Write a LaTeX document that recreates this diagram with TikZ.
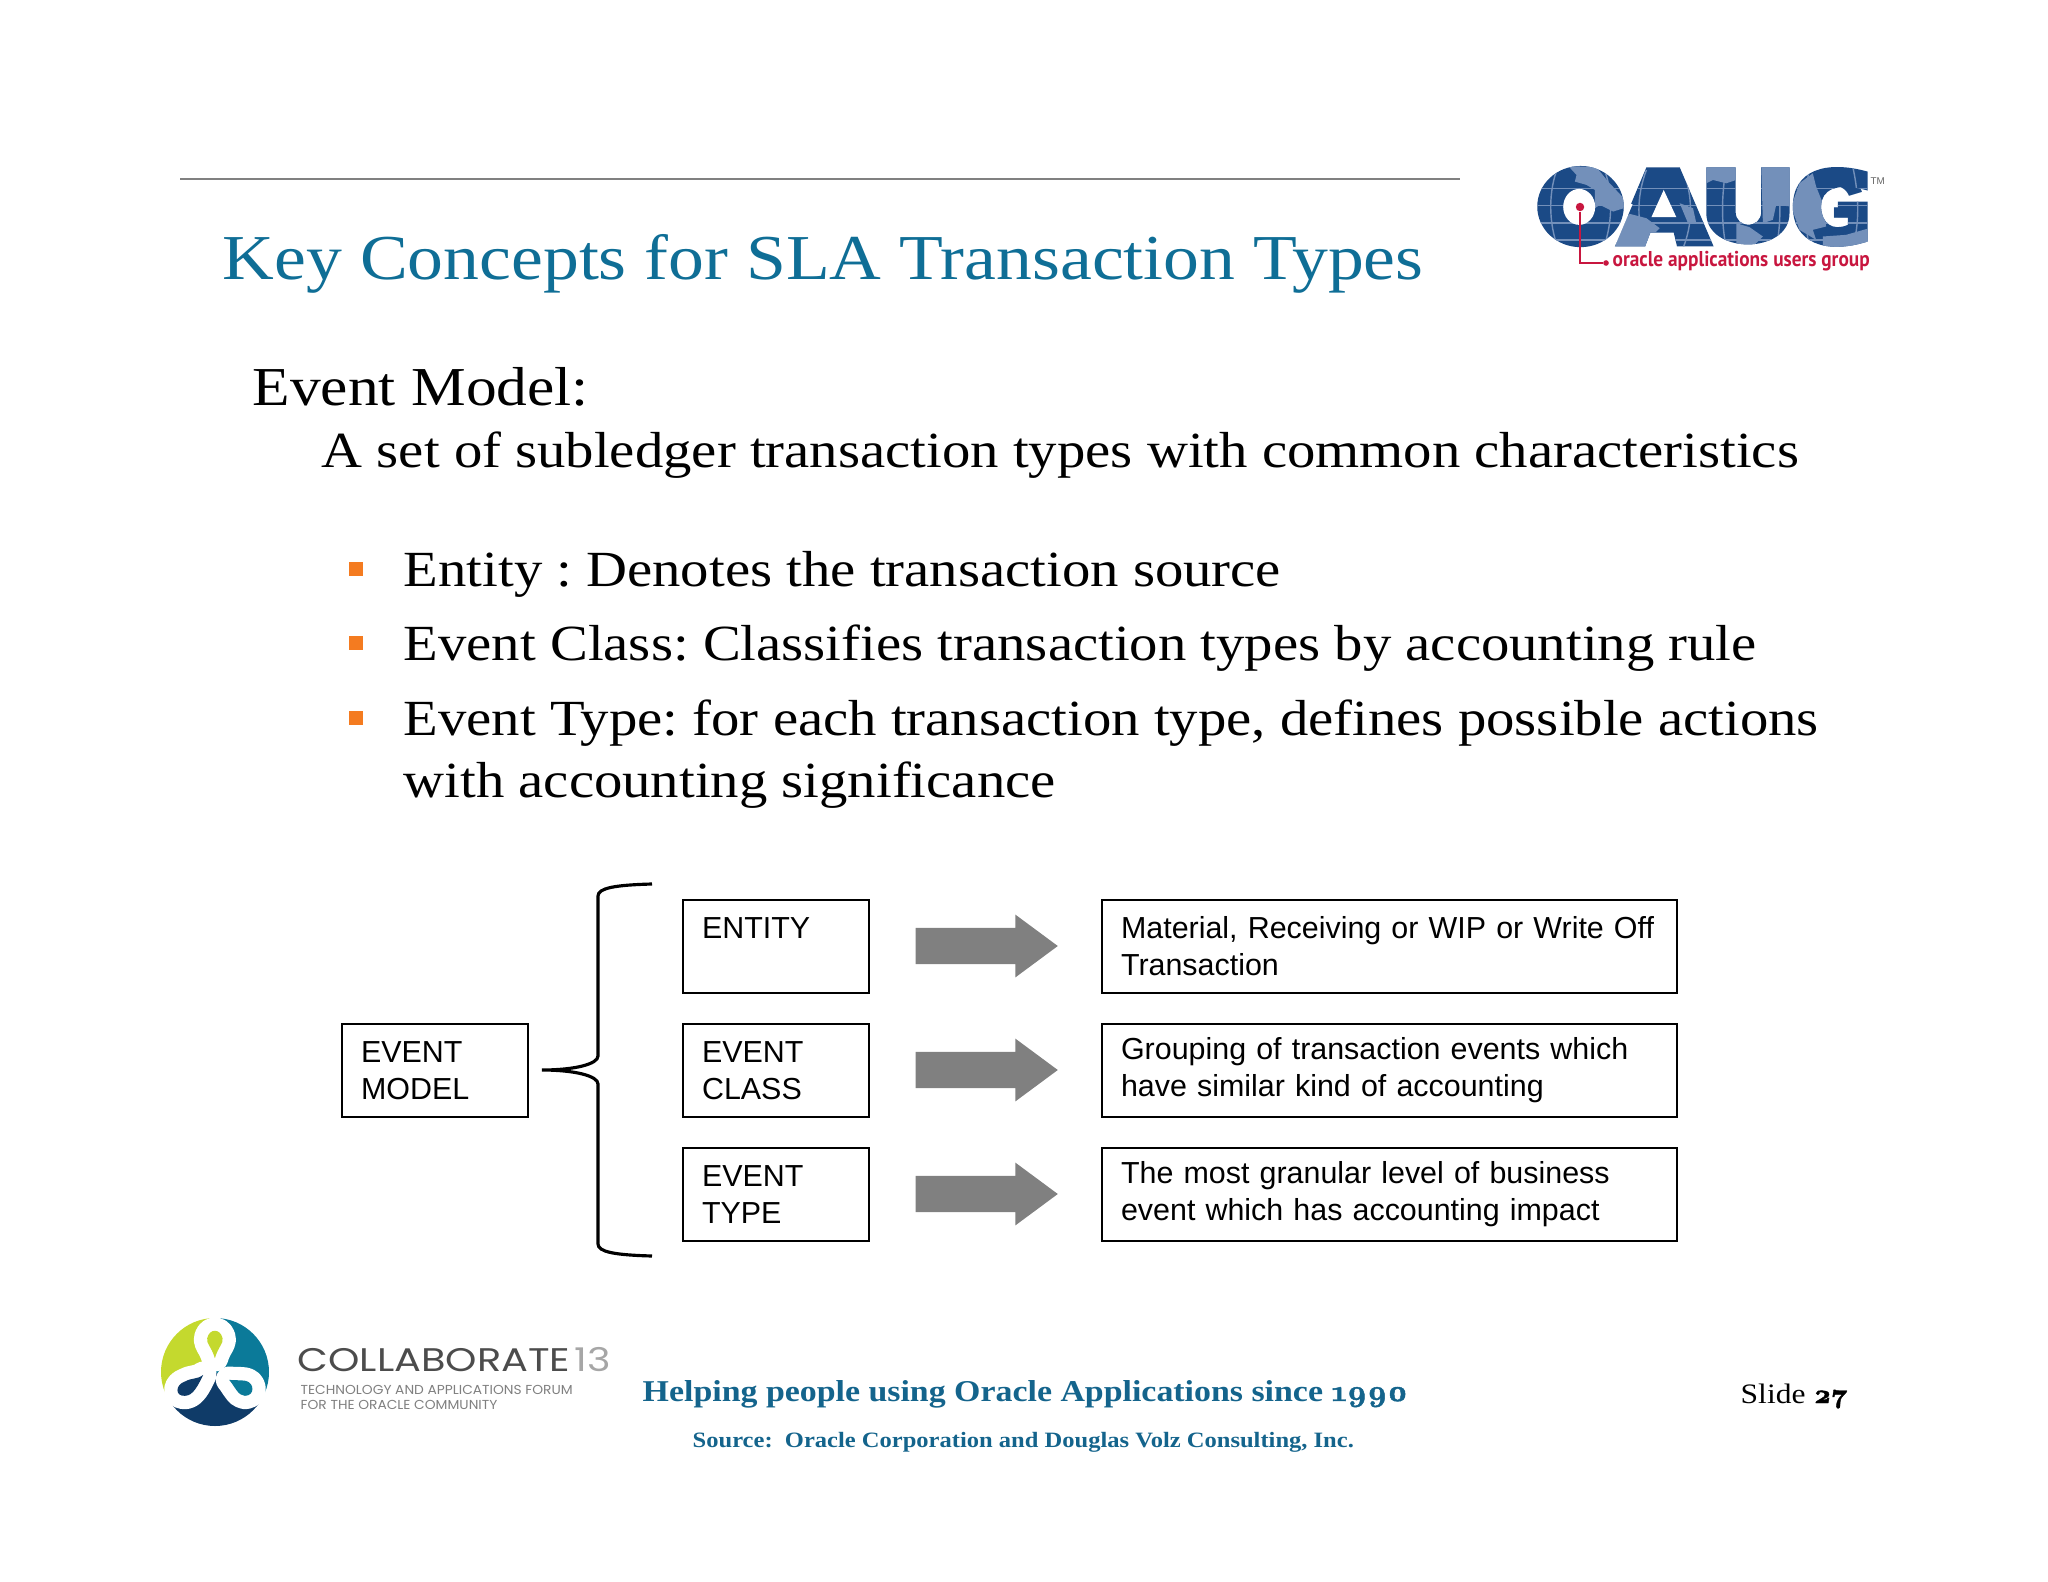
\documentclass[tikz,border=0pt]{standalone}
\usepackage{fontspec}
\usetikzlibrary{shapes.arrows}
\setmainfont{Liberation Serif}
\setsansfont{Liberation Sans}
\newfontfamily\slidefont[FakeStretch=1.12]{Liberation Serif}
\newfontfamily\footbold[FakeStretch=1.12]{Liberation Serif Bold}
\newfontfamily\footfont[Numbers=OldStyle,BoldFeatures={FakeBold=1.5}]{Latin Modern Roman}
\newfontfamily\oaugfont{Liberation Sans Bold}
\newfontfamily\tagfont[FakeStretch=0.9]{PT Sans Bold}
\newfontfamily\collabfont[FakeStretch=1.22]{Poppins}
\newfontfamily\forumfont[FakeStretch=1.06]{Poppins}
\definecolor{slideblue}{HTML}{0F6E96}
\definecolor{footblue}{HTML}{14648C}
\definecolor{bulletorange}{HTML}{F47B20}
\definecolor{oaugdark}{HTML}{1B4A86}
\definecolor{oauglight}{HTML}{7390BA}
\definecolor{oaugred}{HTML}{C8163F}
\definecolor{colime}{HTML}{C4D92E}
\definecolor{coteal}{HTML}{0B7A99}
\definecolor{conavy}{HTML}{0F3B68}
\newcommand{\oaugshape}{
  (302,200) ellipse (130 and 122)
  (400,320) -- (500,82) -- (600,82) -- (702,320) -- (592,320) -- (582,278) -- (512,278) -- (496,320) -- cycle
  (680,82) -- (768,82) -- (768,215) .. controls (768,268) and (845,268) .. (845,215) -- (845,82) -- (930,82)
    -- (930,220) .. controls (930,345) and (680,345) .. (680,220) -- cycle
  (1165,95) .. controls (1040,60) and (940,90) .. (940,200) .. controls (940,310) and (1040,345) .. (1165,305)
    -- (1165,185) -- (1075,185) -- (1075,232) -- (1105,232) -- (1105,255)
    .. controls (1060,275) and (1025,250) .. (1025,200) .. controls (1025,150) and (1070,125) .. (1165,152) -- cycle
}
\tikzset{
  plaintext/.style={anchor=base west,inner sep=0pt},
  bodytext/.style={plaintext,font=\slidefont\fontsize{14.4}{16}\selectfont},
  bulletmark/.style={rectangle,fill=bulletorange,inner sep=0pt,minimum size=4.2pt},
  boxnode/.style={draw,line width=0.6pt,inner sep=0pt,inner xsep=5.4pt,align=left,
    text width=42pt,minimum height=26.4pt,anchor=north west,
    font=\sffamily\fontsize{8.65}{10.5}\selectfont},
  widebox/.style={boxnode,text width=152.6pt},
  blockarrow/.style={single arrow,fill=black!50,inner sep=0pt,minimum height=40.4pt,
    text height=9.9pt,text depth=0pt,text width=0pt,single arrow head extend=3.8pt,
    single arrow tip angle=73,anchor=west},
  teardrop/.style={preaction={draw=white,line width=7.6pt,line join=round}},
}
\begin{document}
\frenchspacing
\begin{tikzpicture}[x=0.01cm,y=-0.01cm]
  \useasboundingbox (0,0) rectangle (2048,1582);
  % header
  \coordinate (ruleleft) at (180,179);
  \coordinate (ruleright) at (1460,179);
  \draw[black!50,line width=0.3pt] (ruleleft) -- (ruleright);
  \node[plaintext,text=slideblue,font=\slidefont\fontsize{18.2}{22}\selectfont]
    (title) at (222,280) {Key Concepts for SLA Transaction Types};
  % text block
  \node[plaintext,font=\slidefont\fontsize{15.6}{18}\selectfont] (model) at (252,405) {Event Model:};
  \node[bodytext] (modeldef) at (321,467) {A set of subledger transaction types with common characteristics};
  \node[bulletmark] (bullet1) at (356,569) {};
  \node[bulletmark] (bullet2) at (356,643) {};
  \node[bulletmark] (bullet3) at (356,718) {};
  \node[bodytext] (entity) at (403,586) {Entity : Denotes the transaction source};
  \node[bodytext] (class) at (403,660) {Event Class: Classifies transaction types by accounting rule};
  \node[bodytext] (type) at (403,735) {Event Type: for each transaction type, defines possible actions};
  \node[bodytext] (typemore) at (403,797) {with accounting significance};
  % boxes
  \node[boxnode] (emodel) at (341,1023) {EVENT\\MODEL};
  \node[boxnode] (eentity) at (682,899) {ENTITY\\~};
  \node[boxnode] (eclass) at (682,1023) {EVENT\\CLASS};
  \node[boxnode] (etype) at (682,1147) {EVENT\\TYPE};
  \node[widebox] (dentity) at (1101,899) {Material, Receiving or WIP or Write Off\\Transaction};
  \node[widebox] (dclass) at (1101,1023) {Grouping of transaction events which\\have similar kind of accounting};
  \node[widebox] (dtype) at (1101,1147) {The most granular level of business\\event which has accounting impact};
  \node[blockarrow] (aentity) at (915,946) {};
  \node[blockarrow] (aclass) at (915,1070) {};
  \node[blockarrow] (atype) at (915,1194) {};
  % brace
  \coordinate (bracetop) at (652,884);
  \coordinate (bracetip) at (542,1070);
  \coordinate (bracebot) at (652,1256);
  \draw[line width=0.9pt] (bracetop) .. controls (615,885) and (598,888) .. (598,896)
    -- (598,1056) .. controls (598,1064) and (575,1070) .. (bracetip)
    .. controls (575,1070) and (598,1076) .. (598,1084)
    -- (598,1244) .. controls (598,1252) and (615,1255) .. (bracebot);
  % footer
  \node[plaintext,text=footblue,font=\footbold\fontsize{8.6}{11}\selectfont]
    (helping) at (642,1401) {Helping people using Oracle Applications since {\footfont\bfseries 1990}};
  \node[plaintext,text=footblue,font=\footbold\fontsize{6.23}{8}\selectfont]
    (source) at (692,1447) {Source:\ \ Oracle Corporation and Douglas Volz Consulting, Inc.};
  \node[plaintext,font=\slidefont\fontsize{8}{10}\selectfont]
    (slide) at (1740,1403) {Slide {\footfont\bfseries\fontsize{7.6}{10}\selectfont 27}};
  % oaug logo
  \node[plaintext,text=oaugdark,font=\oaugfont\fontsize{28}{28}\selectfont]
    (oaug) at (1540,244) {O\kern3.1pt A\kern4.3pt U\kern2.3pt G};
  \begin{scope}[shift={(1480,140)},x=0.00333cm,y=-0.00333cm]
    \fill[oaugdark] \oaugshape;
    \begin{scope}
      \clip \oaugshape;
      \fill[oauglight] (265,78) -- (350,82) -- (385,125) -- (432,175) -- (432,205) -- (400,215) -- (360,195)
        -- (345,205) -- (345,150) -- (320,135) -- (285,125) -- (290,105) -- cycle;
      \fill[oauglight] (405,325) -- (430,240) -- (450,222) -- (500,235) -- (540,265) -- (520,285) -- (495,325) -- cycle;
      \fill[oauglight] (600,190) -- (640,205) -- (650,250) -- (625,250) -- cycle;
      \fill[oauglight] (680,78) -- (770,78) -- (770,120) -- (740,130) -- (700,120) -- (680,130) -- cycle;
      \fill[oauglight] (845,78) -- (935,78) -- (935,200) -- (890,195) -- (880,240) -- (850,250) -- cycle;
      \fill[oauglight] (770,250) -- (810,262) -- (850,290) -- (810,330) -- (770,320) -- cycle;
      \fill[oauglight] (935,200) -- (960,130) -- (1000,100) -- (1010,140) -- (1030,190) -- (1040,260)
        -- (1000,270) -- (1010,300) -- (960,270) -- cycle;
      \fill[oauglight] (1030,290) -- (1100,285) -- (1170,265) -- (1170,330) -- (1030,330) -- cycle;
      \draw[oauglight,line width=0.4pt] (170,145) -- (1165,145) (170,197) -- (1165,197)
        (170,250) -- (1165,250) (170,300) -- (1165,300);
      \draw[oauglight,line width=0.4pt] (235,80) .. controls (205,150) and (205,250) .. (235,325)
        (370,80) .. controls (400,150) and (400,250) .. (370,325)
        (500,90) .. controls (470,170) and (470,250) .. (500,325)
        (610,90) .. controls (640,170) and (640,250) .. (610,325)
        (740,80) .. controls (725,170) and (725,250) .. (740,325)
        (890,80) .. controls (905,170) and (905,250) .. (890,325)
        (990,80) .. controls (975,170) and (975,250) .. (990,325)
        (1120,80) .. controls (1140,170) and (1140,250) .. (1120,325);
    \end{scope}
    \fill[white] (298,201) ellipse (48 and 54);
    \fill[white] (552,150) -- (515,232) -- (590,232) -- cycle;
    \draw[white,line width=0.7pt] (400,322) -- (455,192);
  \end{scope}
  \node[circle,fill=oaugred,inner sep=0pt,minimum size=2.4pt] (reddot) at (1580,207) {};
  \node[circle,fill=oaugred,inner sep=0pt,minimum size=1.6pt] (taildot) at (1606,263) {};
  \draw[oaugred,line width=0.4pt] (reddot) |- (taildot);
  \node[plaintext,text=oaugred,font=\tagfont\fontsize{6.1}{8}\selectfont]
    (oaugtag) at (1612,267) {oracle applications users group};
  \node[plaintext,text=black!60,font=\sffamily\fontsize{2.8}{3}\selectfont]
    (oaugtm) at (1870,185) {TM};
  % collaborate logo
  \begin{scope}
    \clip (215,1372) circle (54);
    \fill[colime] (215,1372) rectangle (150,1310);
    \fill[colime] (215,1372) -- (150,1410) -- (150,1372) -- cycle;
    \fill[coteal] (215,1372) rectangle (280,1310);
    \fill[coteal] (215,1372) -- (280,1410) -- (280,1372) -- cycle;
    \fill[conavy] (215,1372) -- (150,1410) -- (150,1440) -- (280,1440) -- (280,1410) -- cycle;
  \end{scope}
  \begin{scope}[shift={(140,1290)},x=0.00333cm,y=-0.00333cm]
    \fill[teardrop,colime] (225,205) .. controls (215,170) and (198,160) .. (202,145)
      .. controls (208,115) and (242,115) .. (248,145) .. controls (252,160) and (235,170) .. (225,205) -- cycle;
    \fill[teardrop,conavy] (190,255) .. controls (170,270) and (160,262) .. (135,275)
      .. controls (105,285) and (105,320) .. (135,318) .. controls (160,318) and (175,285) .. (190,255) -- cycle;
    \fill[teardrop,coteal] (268,270) .. controls (285,272) and (300,270) .. (318,273)
      .. controls (345,280) and (345,318) .. (315,318) .. controls (295,318) and (285,290) .. (268,270) -- cycle;
  \end{scope}
  \node[plaintext,text=black!70,font=\collabfont\fontsize{9.3}{10}\selectfont]
    (collab) at (297,1371) {COLLABORATE};
  \node[plaintext,text=black!35,font=\collabfont\fontsize{9.3}{10}\selectfont]
    (thirteen) at (574,1371) {13};
  \node[plaintext,text=black!50,font=\forumfont\fontsize{3.7}{4}\selectfont]
    (forum) at (300,1394) {TECHNOLOGY AND APPLICATIONS FORUM};
  \node[plaintext,text=black!50,font=\forumfont\fontsize{3.7}{4}\selectfont]
    (community) at (300,1409) {FOR THE ORACLE COMMUNITY};
\end{tikzpicture}
\end{document}
